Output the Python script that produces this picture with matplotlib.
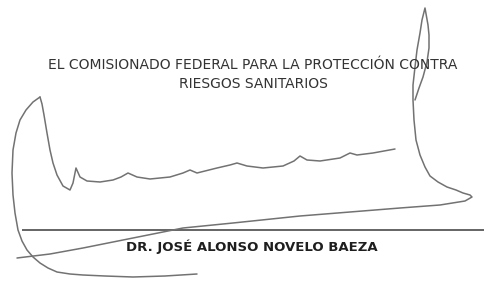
import matplotlib
matplotlib.use('Agg')
import matplotlib.pyplot as plt

# textos
titulo_1 = 'EL COMISIONADO FEDERAL PARA LA PROTECCIÓN CONTRA'
titulo_2 = 'RIESGOS SANITARIOS'
nombre = 'DR. JOSÉ ALONSO NOVELO BAEZA'

# trazos de la firma (x, y en pixeles, y hacia abajo)
# lazo izquierdo + linea ondulada
lazo_x = [40, 42, 44, 47, 50, 53, 57, 63, 70, 73, 76, 80, 87, 100, 113, 121,
          128, 137, 150, 170, 183, 190, 197, 217, 230, 237, 247, 263, 283, 294,
          300, 307, 320, 340, 350, 357, 373, 395]
lazo_y = [97, 104, 115, 133, 150, 163, 175, 186, 190, 183, 168, 177, 181, 182,
          180, 177, 173, 177, 179, 177, 173, 170, 173, 168, 165, 163, 166, 168,
          166, 161, 156, 160, 161, 158, 153, 155, 153, 149]

# rama izquierda del lazo que baja hasta abajo
izq_x = [40, 33, 26, 20, 16, 13, 12, 13, 15, 18, 22, 27, 33, 40, 48, 57, 70,
         83, 105, 133, 165, 197]
izq_y = [97, 102, 110, 120, 133, 150, 173, 195, 213, 230, 241, 250, 257, 263,
         268, 272, 274, 275, 276, 277, 276, 274]

# trazo largo de la derecha
largo_x = [415, 419, 423, 427, 429, 429, 428, 425, 422, 420, 417, 415, 413, 413,
           414, 416, 420, 425, 430, 438, 447, 456, 463, 470, 472, 465, 440, 400,
           350, 300, 233, 183, 133, 83, 50, 17]
largo_y = [100, 88, 77, 62, 48, 35, 25, 8, 20, 33, 50, 67, 85, 100, 120, 140,
           155, 167, 176, 182, 187, 190, 193, 195, 197, 201, 205, 208, 212, 216,
           223, 228, 238, 248, 254, 258]

linea_x = [22, 485]
linea_y = [230, 230]

fig = plt.figure(figsize=(4.85, 2.82), dpi=100)
ax = fig.add_axes([0, 0, 1, 1])
ax.set_xlim(0, 485)
ax.set_ylim(282, 0)
ax.axis('off')

ax.plot(linea_x, linea_y, color='#3a3a3a', lw=1.1, solid_capstyle='butt')
for xs, ys in [(lazo_x, lazo_y), (izq_x, izq_y), (largo_x, largo_y)]:
    ax.plot(xs, ys, color='#727272', lw=1.1, solid_joinstyle='round',
            solid_capstyle='round')

ax.text(253, 65, titulo_1, ha='center', va='center', fontsize=10,
        family='DejaVu Sans', color='#333333')
ax.text(253, 84, titulo_2, ha='center', va='center', fontsize=10,
        family='DejaVu Sans', color='#333333')
ax.text(252, 247, nombre, ha='center', va='center', fontsize=9.55,
        family='DejaVu Sans', weight='bold', color='#1e1e1e')

fig.savefig('out.png', dpi=100, facecolor='white')
